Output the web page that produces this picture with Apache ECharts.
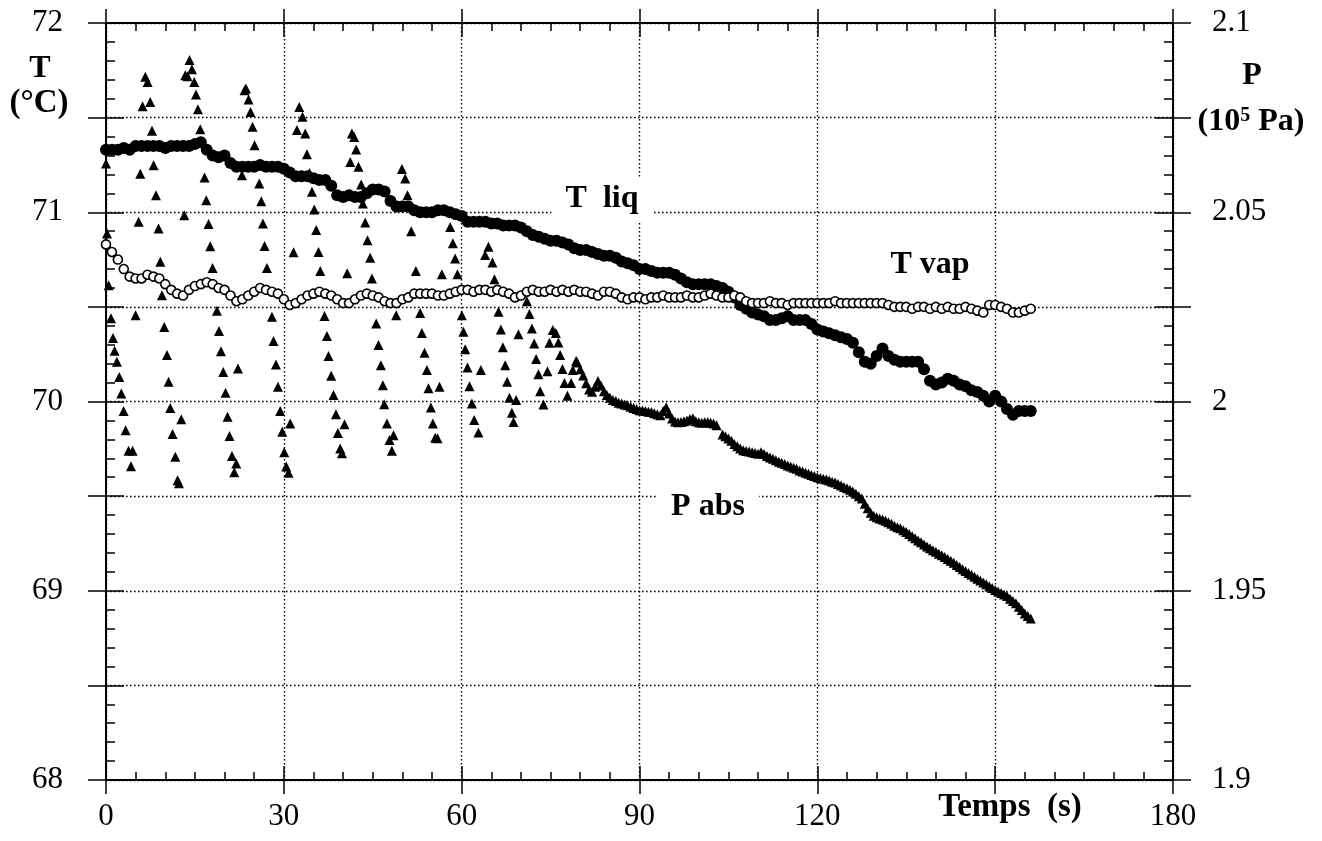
<!DOCTYPE html>
<html>
<head>
<meta charset="utf-8">
<script src="https://cdn.jsdelivr.net/npm/echarts@6/dist/echarts.min.js"></script>
<style>html,body{margin:0;padding:0;background:#fff}#c{width:1322px;height:841px}</style>
</head>
<body>
<div id="c"></div>
<script>
// ---------- DATA ----------
// time grid of the two temperature series: 1 s steps from 0 to 156 s
const tempStart = 0, tempStep = 1;
// T liq (°C) - filled circles
const tLiq = [71.33,71.33,71.33,71.34,71.33,71.35,71.35,71.35,71.35,71.35,
71.34,71.35,71.35,71.35,71.35,71.36,71.37,71.33,71.30,71.29,
71.30,71.26,71.24,71.24,71.24,71.24,71.25,71.24,71.24,71.24,
71.23,71.21,71.19,71.19,71.19,71.18,71.17,71.17,71.14,71.09,
71.08,71.09,71.08,71.08,71.10,71.12,71.12,71.11,71.06,71.03,
71.03,71.03,71.01,71.00,71.00,71.00,71.01,71.01,71.00,70.99,
70.98,70.95,70.95,70.95,70.95,70.94,70.94,70.93,70.93,70.93,
70.92,70.90,70.88,70.87,70.86,70.85,70.85,70.84,70.83,70.81,
70.80,70.80,70.79,70.78,70.77,70.77,70.76,70.74,70.73,70.72,
70.70,70.70,70.69,70.68,70.68,70.68,70.67,70.65,70.63,70.62,
70.62,70.62,70.62,70.61,70.60,70.58,70.55,70.51,70.49,70.47,
70.46,70.45,70.43,70.43,70.44,70.45,70.43,70.43,70.43,70.41,
70.38,70.37,70.36,70.35,70.34,70.33,70.31,70.26,70.21,70.20,
70.24,70.28,70.24,70.22,70.21,70.21,70.21,70.21,70.17,70.11,
70.09,70.10,70.12,70.11,70.09,70.08,70.06,70.05,70.03,70.00,
70.03,70.00,69.96,69.93,69.95,69.95,69.95];
// T vap (°C) - open circles
const tVap = [70.83,70.79,70.75,70.70,70.66,70.65,70.65,70.67,70.66,70.65,
70.62,70.59,70.57,70.56,70.59,70.61,70.62,70.63,70.62,70.60,
70.59,70.56,70.53,70.54,70.56,70.58,70.60,70.59,70.58,70.57,
70.54,70.51,70.52,70.54,70.56,70.57,70.58,70.57,70.56,70.54,
70.52,70.52,70.54,70.56,70.57,70.56,70.55,70.53,70.52,70.52,
70.54,70.55,70.57,70.57,70.57,70.57,70.56,70.56,70.57,70.58,
70.59,70.59,70.58,70.59,70.59,70.58,70.59,70.58,70.57,70.55,
70.56,70.58,70.59,70.58,70.58,70.59,70.58,70.59,70.58,70.59,
70.58,70.58,70.57,70.56,70.58,70.58,70.57,70.55,70.54,70.55,
70.55,70.54,70.55,70.55,70.56,70.55,70.55,70.55,70.56,70.55,
70.55,70.56,70.57,70.56,70.55,70.55,70.56,70.55,70.53,70.52,
70.52,70.52,70.53,70.52,70.52,70.51,70.52,70.52,70.52,70.52,
70.52,70.52,70.52,70.53,70.52,70.52,70.52,70.52,70.52,70.52,
70.52,70.52,70.51,70.50,70.50,70.50,70.49,70.50,70.50,70.49,
70.50,70.49,70.50,70.49,70.49,70.50,70.49,70.48,70.47,70.51,
70.51,70.50,70.49,70.47,70.47,70.48,70.49];
// P abs (1e5 Pa) - triangles, oscillating phase: [time s, pressure]
const pAbsOscillating = [[0,2.0629],[0.17,2.0444],[0.44,2.0307],[0.84,2.022],[1.18,2.0168],[1.45,2.0134],[1.85,2.0105],[2.24,2.0065],[2.58,2.0021],[2.97,1.9975],
[3.31,1.9924],[3.81,1.987],[4.49,1.987],[4.22,1.9829],[4.99,2.0228],[5.5,2.0475],[5.78,2.0602],[6.17,2.078],[6.63,2.0858],[7.02,2.0844],
[7.47,2.0791],[7.76,2.0715],[8.03,2.0624],[8.43,2.0545],[8.87,2.0457],[9.16,2.0369],[9.44,2.0281],[9.83,2.0197],[10.29,2.0123],[10.56,2.0052],
[10.84,1.9983],[11.23,1.9914],[11.69,1.9854],[12.07,1.9792],[12.31,1.9784],[12.7,1.9953],[13.2,2.0492],[13.37,2.0862],[13.76,2.0859],[14.1,2.0902],
[14.5,2.0878],[14.89,2.0844],[15.18,2.0811],[15.51,2.0772],[15.9,2.0719],[16.63,2.0592],[16.91,2.0532],[17.3,2.0469],[17.59,2.041],[17.98,2.0353],
[18.72,2.024],[19.06,2.0186],[19.39,2.0133],[19.78,2.0078],[20.17,2.0023],[20.51,1.996],[20.84,1.9909],[21.25,1.9856],[21.97,1.9836],[21.64,1.9813],
[22.26,2.0087],[22.93,2.0598],[23.37,2.0822],[23.61,2.0827],[24.05,2.0798],[24.38,2.0765],[24.72,2.0726],[25.06,2.0677],[25.85,2.0576],[26.19,2.0529],
[26.48,2.047],[26.75,2.0411],[27.15,2.0353],[27.99,2.0224],[28.26,2.016],[28.67,2.0098],[29.01,2.0039],[29.39,1.9975],[29.73,1.992],[30.07,1.9866],
[30.4,1.9828],[30.79,1.9812],[31.07,1.9942],[31.64,2.0394],[32.6,2.0778],[33.15,2.0752],[32.21,2.0717],[33.61,2.0708],[33.9,2.0653],[34.33,2.0604],
[34.74,2.0554],[35.13,2.0507],[35.46,2.0453],[35.85,2.0395],[36.14,2.0345],[36.86,2.0226],[37.27,2.0173],[37.54,2.012],[37.99,2.0068],[38.38,2.0017],
[38.79,1.9966],[39.12,1.9917],[39.51,1.9876],[39.8,1.9863],[40.24,1.994],[40.69,2.0339],[41.2,2.0633],[41.48,2.0708],[41.87,2.0699],[42.21,2.0666],
[42.6,2.062],[43.05,2.0573],[43.34,2.0523],[43.73,2.0473],[44.11,2.0426],[44.57,2.038],[44.86,2.0325],[45.58,2.0206],[45.97,2.0149],[46.37,2.0096],
[46.71,2.0043],[46.93,1.9993],[47.39,1.9942],[47.83,1.9898],[48.23,1.987],[48.5,1.9911],[48.95,2.0228],[49.92,2.0614],[50.47,2.0589],[50.86,2.0545],
[51.48,2.045],[52.28,2.0345],[53,2.0234],[53.29,2.0181],[53.73,2.0129],[54.13,2.0083],[54.4,2.0035],[56.26,2.0039],[54.81,1.9984],[55.14,1.9942],
[55.53,1.9904],[55.92,1.9903],[56.66,2.0336],[58.06,2.0461],[58.52,2.0418],[58.9,2.0378],[59.29,2.0336],[60.03,2.0228],[60.3,2.0184],[60.59,2.0138],
[60.98,2.009],[61.32,2.004],[61.72,1.9995],[62.11,1.9951],[62.83,1.9918],[63.24,2.0083],[63.96,2.0387],[64.52,2.0409],[65.19,2.0367],[65.53,2.0323],
[66.21,2.0237],[66.61,2.019],[66.95,2.0143],[67.34,2.0096],[67.67,2.0052],[68.06,2.001],[69.19,2.0004],[68.47,1.997],[68.74,1.9946],[69.58,2.0178],
[71,2.0265],[71.43,2.0231],[71.84,2.0193],[72.23,2.0153],[72.56,2.0112],[72.95,2.0072],[73.24,2.0027],[73.79,1.9992],[74.47,2.008],[74.81,2.0155],
[75.38,2.0189],[75.89,2.0181],[76.32,2.0156],[76.61,2.0123],[77,2.0086],[77.34,2.0049],[77.84,2.0015],[78.47,2.0049],[78.75,2.0083],[79.31,2.0107]];
// P abs (1e5 Pa), dense phase: 0.5 s steps from 79.5 s to 156 s (null = gap)
const pDenseStart = 79.5, pDenseStep = 0.5;
const pAbsDense = [2.0103,2.0085,2.0069,2.0048,2.0032,2.0026,2.0039,2.0054,2.0042,2.0027,
2.0017,2.0010,2.0004,2.0001,1.9997,1.9995,1.9992,1.9990,1.9986,1.9983,
1.9980,1.9977,1.9976,1.9975,1.9973,1.9972,1.9969,1.9966,1.9964,1.9975,
1.9985,1.9968,1.9955,1.9947,1.9945,1.9946,1.9948,1.9950,1.9954,1.9956,
1.9948,1.9945,1.9944,1.9945,1.9946,1.9944,1.9942,1.9937,null,1.9913,
1.9908,1.9902,1.9896,1.9888,1.9882,1.9876,1.9871,1.9869,1.9868,1.9866,
1.9864,1.9862,1.9866,1.9861,1.9856,1.9852,1.9849,1.9845,1.9841,1.9838,
1.9835,1.9831,1.9828,1.9825,1.9822,1.9818,1.9815,1.9812,1.9809,1.9806,
1.9803,1.9800,1.9798,1.9796,1.9794,1.9791,1.9788,1.9786,1.9782,1.9778,
1.9774,1.9771,1.9767,1.9762,1.9756,1.9750,1.9744,1.9730,1.9718,1.9706,
1.9698,1.9694,1.9691,1.9688,1.9685,1.9681,1.9677,1.9672,1.9668,1.9665,
1.9660,1.9655,1.9650,1.9644,1.9639,1.9633,1.9628,1.9622,1.9617,1.9612,
1.9607,1.9603,1.9598,1.9594,1.9589,1.9584,1.9579,1.9574,1.9568,1.9563,
1.9557,1.9552,1.9547,1.9542,1.9537,1.9532,1.9527,1.9522,1.9517,1.9512,
1.9507,1.9502,1.9498,1.9494,1.9490,1.9486,1.9479,1.9473,1.9467,1.9458,
1.9449,1.9440,1.9433,1.9427];
// axes
const timeMin = 0, timeMax = 180, timeInterval = 30;
const tempMin = 68, tempMax = 72, tempInterval = 0.5;
const presMin = 1.9, presMax = 2.1, presInterval = 0.025;

// ---------- CHART ----------
const FONT = "'Liberation Serif','Times New Roman',serif";
const BLACK = '#000';
const chart = echarts.init(document.getElementById('c'), null, {renderer:'canvas'});
const GRID_LINE = {type:[1.6,2.4], color:BLACK, width:1.4};

function xAx(pos, inside, main) {
  return {
    type:'value', min:timeMin, max:timeMax, interval:timeInterval, position:pos,
    axisLine:{show:main, onZero:false, lineStyle:{color:BLACK, width:2}},
    axisTick:{show:true, inside:inside, length:14, lineStyle:{color:BLACK, width:1.5}},
    minorTick:{show:inside, splitNumber:6, length:8, lineStyle:{color:BLACK, width:1.5}},
    axisLabel:{show:(pos==='bottom' && main), margin:21, fontFamily:FONT, fontSize:31, color:BLACK,
      formatter:v => (v === 150 ? '' : String(v))},
    splitLine:{show:(pos==='bottom' && main), lineStyle:GRID_LINE}
  };
}
function yAx(pos, inside, main, isTemp) {
  return {
    type:'value', position:pos,
    min:isTemp?tempMin:presMin, max:isTemp?tempMax:presMax, interval:isTemp?tempInterval:presInterval,
    axisLine:{show:main, onZero:false, lineStyle:{color:BLACK, width:2}},
    axisTick:{show:true, inside:inside, length:18, lineStyle:{color:BLACK, width:1.5}},
    minorTick:{show:inside, splitNumber:5, length:9, lineStyle:{color:BLACK, width:1.5}},
    axisLabel:{show:main, margin:isTemp?43:39, fontFamily:FONT, fontSize:31, color:BLACK,
      formatter:v => {
        if (isTemp) return Number.isInteger(Math.round(v*1000)/1000) ? String(Math.round(v)) : '';
        const k = Math.round(v*1000);
        return (k % 50 === 0) ? String(+(k/1000).toFixed(2)) : '';
      }},
    splitLine:{show:(isTemp && main), lineStyle:GRID_LINE}
  };
}

const option = {
  animation:false,
  backgroundColor:'#fff',
  grid:{left:106, top:23, width:1067, height:757, containLabel:false},
  xAxis:[xAx('bottom',true,true), xAx('bottom',false,false), xAx('top',true,true), xAx('top',false,false)],
  yAxis:[yAx('left',true,true,true), yAx('left',false,false,true), yAx('right',true,true,false), yAx('right',false,false,false)],
  series:[
    {name:'T liq', type:'scatter', xAxisIndex:0, yAxisIndex:0, silent:true, large:false, z:3,
     symbol:'circle', symbolSize:12, itemStyle:{color:BLACK, opacity:1},
     data:tLiq.map((v,i)=>[tempStart+i*tempStep, v])},
    {name:'P abs', type:'scatter', xAxisIndex:0, yAxisIndex:2, silent:true, large:false, z:4,
     symbol:'triangle', symbolSize:10, itemStyle:{color:BLACK, opacity:1},
     data:pAbsOscillating},
    {name:'P abs dense', type:'scatter', xAxisIndex:0, yAxisIndex:2, silent:true, large:false, z:4,
     symbol:'triangle', symbolSize:10, itemStyle:{color:BLACK, opacity:1},
     data:pAbsDense.map((v,i)=>[pDenseStart+i*pDenseStep, v]).filter(d=>d[1]!==null)},
    {name:'T vap', type:'scatter', xAxisIndex:0, yAxisIndex:0, silent:true, large:false, z:5,
     symbol:'circle', symbolSize:9, itemStyle:{color:'#fff', borderColor:BLACK, borderWidth:1.6, opacity:1},
     data:tVap.map((v,i)=>[tempStart+i*tempStep, v])}
  ],
  graphic:[
    {type:'text', x:602, y:199, z:50, style:{text:'T  liq', font:'bold 32px '+FONT, fill:BLACK, align:'center', verticalAlign:'middle', backgroundColor:'#fff', padding:[6,14]}},
    {type:'text', x:930, y:265, z:50, style:{text:'T vap', font:'bold 32px '+FONT, fill:BLACK, align:'center', verticalAlign:'middle', backgroundColor:'#fff', padding:[2,6]}},
    {type:'text', x:708, y:507, z:50, style:{text:'P abs', font:'bold 32px '+FONT, fill:BLACK, align:'center', verticalAlign:'middle', backgroundColor:'#fff', padding:[4,14]}},
    {type:'text', x:1010, y:807, z:50, style:{text:'Temps  (s)', font:'bold 33px '+FONT, fill:BLACK, align:'center', verticalAlign:'middle'}},
    {type:'text', x:40, y:69, z:50, style:{text:'T', font:'bold 32px '+FONT, fill:BLACK, align:'center', verticalAlign:'middle'}},
    {type:'text', x:39, y:103, z:50, style:{text:'(°C)', font:'bold 33px '+FONT, fill:BLACK, align:'center', verticalAlign:'middle'}},
    {type:'text', x:1252, y:76, z:50, style:{text:'P', font:'bold 32px '+FONT, fill:BLACK, align:'center', verticalAlign:'middle'}},
    {type:'text', x:1251, y:122, z:50, style:{text:'{a|(10}{s|5}{a| Pa)}', fill:BLACK, align:'center', verticalAlign:'middle',
      rich:{a:{font:'bold 32px '+FONT, fill:BLACK}, s:{font:'bold 20px '+FONT, fill:BLACK, verticalAlign:'top'}}}}
  ]
};
chart.setOption(option);
</script>
</body>
</html>
